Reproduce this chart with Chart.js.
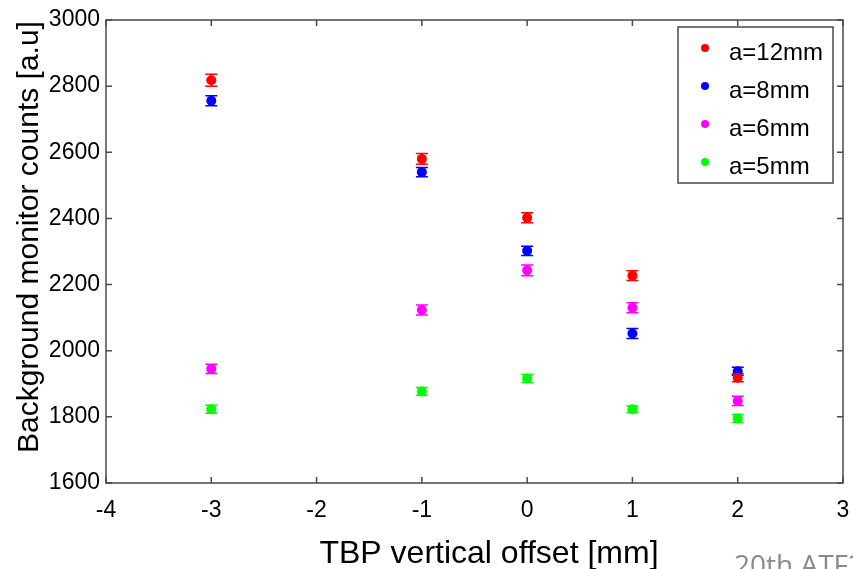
<!DOCTYPE html>
<html>
<head>
<meta charset="utf-8">
<script src="https://cdn.jsdelivr.net/npm/chart.js@4.4.1/dist/chart.umd.min.js"></script>
<style>
  html, body { margin: 0; padding: 0; background: #ffffff; }
  #wrap { position: relative; width: 853px; height: 569px; overflow: hidden; }
  #note { position: absolute; left: 734px; top: 547px; font-family: "Open Sans", sans-serif; font-size: 28px; color: #8a8a8a; white-space: nowrap; line-height: 34px; }
</style>
</head>
<body>
<div id="wrap">
  <canvas id="c" width="853" height="569"></canvas>
  <div id="note">20th ATF2 Project Meeting</div>
</div>
<script>
// ---- data ----
const offsets = [-3, -1, 0, 1, 2];
const seriesLabels = ["a=12mm", "a=8mm", "a=6mm", "a=5mm"];
const seriesColors = ["#ff0000", "#0000ff", "#ff00ff", "#00ff00"];
const a12 = [2818, 2580, 2402, 2227, 1918];
const a8  = [2756, 2540, 2302, 2052, 1938];
const a6  = [1945, 2123, 2243, 2130, 1848];
const a5  = [1823, 1877, 1916, 1823, 1795];
const a12err = [18, 16, 15, 15, 12];
const a8err  = [15, 14, 14, 15, 12];
const a6err  = [14, 15, 16, 15, 14];
const a5err  = [12, 12, 12, 10, 12];
const xTicks = [-4, -3, -2, -1, 0, 1, 2, 3];
const yTicks = [1600, 1800, 2000, 2200, 2400, 2600, 2800, 3000];
const xTitle = "TBP vertical offset [mm]";
const yTitle = "Background monitor counts [a.u]";

const values = [a12, a8, a6, a5];
const errors = [a12err, a8err, a6err, a5err];

const datasets = seriesLabels.map((lab, i) => ({
  label: lab,
  data: offsets.map((x, j) => ({ x: x, y: values[i][j] })),
  err: errors[i],
  backgroundColor: seriesColors[i],
  borderColor: seriesColors[i],
  pointRadius: 5,
  pointBorderWidth: 0,
  showLine: false
}));

const FONT = "'Liberation Sans', Arial, sans-serif";

const decor = {
  id: 'decor',
  beforeDatasetsDraw(chart) {
    const ctx = chart.ctx;
    const xs = chart.scales.x, ys = chart.scales.y;
    ctx.save();
    chart.data.datasets.forEach(ds => {
      ctx.strokeStyle = ds.borderColor;
      ctx.lineWidth = 1.5;
      ds.data.forEach((p, j) => {
        const px = xs.getPixelForValue(p.x);
        const top = ys.getPixelForValue(p.y + ds.err[j]);
        const bot = ys.getPixelForValue(p.y - ds.err[j]);
        ctx.beginPath();
        ctx.moveTo(px, top); ctx.lineTo(px, bot);
        ctx.moveTo(px - 6, top); ctx.lineTo(px + 6, top);
        ctx.moveTo(px - 6, bot); ctx.lineTo(px + 6, bot);
        ctx.stroke();
      });
    });
    ctx.restore();
  },
  afterDraw(chart) {
    const ctx = chart.ctx;
    const a = chart.chartArea;
    const xs = chart.scales.x, ys = chart.scales.y;
    ctx.save();
    // box
    ctx.strokeStyle = '#4a4a4a';
    ctx.lineWidth = 1.5;
    ctx.strokeRect(a.left, a.top, a.right - a.left, a.bottom - a.top);
    // inward ticks
    ctx.beginPath();
    xTicks.forEach(v => {
      const px = xs.getPixelForValue(v);
      ctx.moveTo(px, a.bottom); ctx.lineTo(px, a.bottom - 6);
      ctx.moveTo(px, a.top); ctx.lineTo(px, a.top + 6);
    });
    yTicks.forEach(v => {
      const py = ys.getPixelForValue(v);
      ctx.moveTo(a.left, py); ctx.lineTo(a.left + 6, py);
      ctx.moveTo(a.right, py); ctx.lineTo(a.right - 6, py);
    });
    ctx.stroke();
    // legend
    const lx = 678, ly = 27, lw = 155, lh = 156;
    ctx.fillStyle = '#ffffff';
    ctx.fillRect(lx, ly, lw, lh);
    ctx.strokeStyle = '#4a4a4a';
    ctx.lineWidth = 1.5;
    ctx.strokeRect(lx, ly, lw, lh);
    ctx.font = '24px ' + FONT;
    ctx.textBaseline = 'middle';
    ctx.textAlign = 'left';
    chart.data.datasets.forEach((ds, i) => {
      const cy = ly + 21 + i * 38;
      ctx.fillStyle = ds.backgroundColor;
      ctx.beginPath();
      ctx.arc(lx + 27, cy, 4, 0, Math.PI * 2);
      ctx.fill();
      ctx.fillStyle = '#000000';
      ctx.fillText(ds.label, lx + 51, cy + 5);
    });
    // axis titles
    ctx.fillStyle = '#000000';
    ctx.font = '32px ' + FONT;
    ctx.textAlign = 'center';
    ctx.textBaseline = 'alphabetic';
    ctx.fillText(xTitle, 489, 563);
    ctx.save();
    ctx.translate(38, 237);
    ctx.rotate(-Math.PI / 2);
    ctx.font = '30px ' + FONT;
    ctx.fillText(yTitle, 0, 0);
    ctx.restore();
    ctx.restore();
  }
};

new Chart(document.getElementById('c'), {
  type: 'scatter',
  data: { datasets: datasets },
  options: {
    responsive: false,
    animation: false,
    layout: { padding: { top: 20, right: 0, left: 0, bottom: 0 } },
    plugins: { legend: { display: false }, tooltip: { enabled: false } },
    scales: {
      x: {
        type: 'linear',
        min: -4, max: 3,
        afterBuildTicks: s => { s.ticks = xTicks.map(v => ({ value: v })); },
        afterFit: s => { s.height = 86; s.paddingRight = 10; },
        grid: { display: false, drawTicks: false },
        border: { display: false },
        ticks: { color: '#000', font: { family: FONT, size: 23 }, padding: 14, maxRotation: 0, callback: v => String(v) }
      },
      y: {
        type: 'linear',
        min: 1600, max: 3000,
        afterBuildTicks: s => { s.ticks = yTicks.map(v => ({ value: v })); },
        afterFit: s => { s.width = 106; },
        grid: { display: false, drawTicks: false },
        border: { display: false },
        ticks: { color: '#000', font: { family: FONT, size: 23 }, padding: 6, callback: v => String(v) }
      }
    }
  },
  plugins: [decor]
});
</script>
</body>
</html>
